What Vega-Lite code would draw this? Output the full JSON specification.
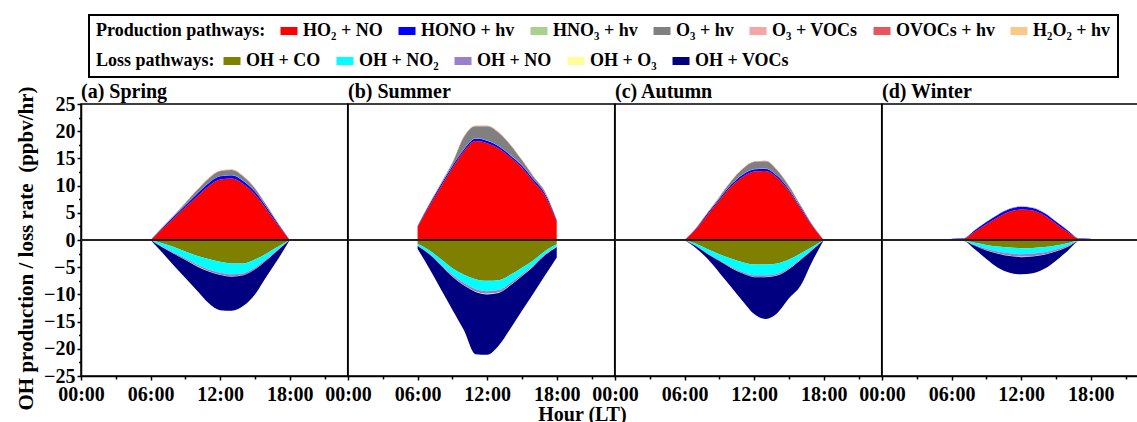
{
  "$schema": "https://vega.github.io/schema/vega-lite/v6.json",
  "padding": {"left": 14, "top": 14, "right": 0, "bottom": 0},
  "background": "white",
  "spacing": 0,
  "bounds": "flush",
  "config": {
    "font": "Liberation Serif",
    "view": {"stroke": "black", "strokeWidth": 1.5},
    "axis": {"labelFont": "Liberation Serif", "labelFontSize": 20, "labelFontWeight": "bold", "labelColor": "black", "titleFont": "Liberation Serif", "titleFontSize": 20, "titleFontWeight": "bold", "titleColor": "black", "domainColor": "black", "domainWidth": 1.5, "tickColor": "black", "tickWidth": 1.5, "tickSize": 4, "labelPadding": 2, "grid": false, "labelFlush": false, "labelOverlap": false, "labelBound": false},
    "axisX": {"labelPadding": 4},
    "title": {"font": "Liberation Serif", "fontSize": 20, "fontWeight": "bold", "color": "black", "anchor": "start", "frame": "group", "offset": 2},
    "legend": {"labelFont": "Liberation Serif", "labelFontSize": 18, "labelFontWeight": "bold", "labelColor": "black", "titleFont": "Liberation Serif", "titleFontSize": 18, "titleFontWeight": "bold", "titleColor": "black", "symbolType": "M-1,-0.47H1V0.47H-1Z", "symbolSize": 289, "symbolStrokeWidth": 0, "symbolOpacity": 1, "labelOffset": 5, "columnPadding": 15, "labelLimit": 300, "titleLimit": 400, "strokeWidth": 2}
  },
  "title": {"text": "Hour (LT)", "orient": "bottom", "anchor": "middle", "frame": "bounds", "offset": -6, "fontSize": 20},
  "datasets": {
    "prodrank": [
      {"production": "HO2_NO", "rank": 1}, {"production": "HONO_hv", "rank": 2}, {"production": "HNO3_hv", "rank": 3}, {"production": "O3_hv", "rank": 4},
      {"production": "O3_VOCs", "rank": 5}, {"production": "OVOCs_hv", "rank": 6}, {"production": "H2O2_hv", "rank": 7}
    ],
    "lossrank": [
      {"loss": "OH_CO", "rank": 1}, {"loss": "OH_NO2", "rank": 2}, {"loss": "OH_NO", "rank": 3}, {"loss": "OH_O3", "rank": 4}, {"loss": "OH_VOCs", "rank": 5}
    ],
    "oh": [
      {"season": "Spring", "hour": 6, "HO2_NO": 0, "HONO_hv": 0, "HNO3_hv": 0, "O3_hv": 0, "O3_VOCs": 0, "OVOCs_hv": 0, "H2O2_hv": 0, "OH_CO": 0, "OH_NO2": 0, "OH_NO": 0, "OH_O3": 0, "OH_VOCs": 0},
      {"season": "Spring", "hour": 7, "HO2_NO": 2.0, "HONO_hv": 0.2, "HNO3_hv": 0.01, "O3_hv": 0.1, "O3_VOCs": 0.01, "OVOCs_hv": 0.01, "H2O2_hv": 0.01, "OH_CO": -0.6, "OH_NO2": -0.6, "OH_NO": -0.1, "OH_O3": -0.02, "OH_VOCs": -0.98},
      {"season": "Spring", "hour": 8, "HO2_NO": 4.0, "HONO_hv": 0.3, "HNO3_hv": 0.02, "O3_hv": 0.2, "O3_VOCs": 0.02, "OVOCs_hv": 0.02, "H2O2_hv": 0.02, "OH_CO": -1.3, "OH_NO2": -1.0, "OH_NO": -0.2, "OH_O3": -0.03, "OH_VOCs": -2.17},
      {"season": "Spring", "hour": 9, "HO2_NO": 6.0, "HONO_hv": 0.4, "HNO3_hv": 0.02, "O3_hv": 0.4, "O3_VOCs": 0.02, "OVOCs_hv": 0.03, "H2O2_hv": 0.02, "OH_CO": -2.1, "OH_NO2": -1.3, "OH_NO": -0.25, "OH_O3": -0.04, "OH_VOCs": -3.31},
      {"season": "Spring", "hour": 10, "HO2_NO": 8.0, "HONO_hv": 0.5, "HNO3_hv": 0.03, "O3_hv": 0.6, "O3_VOCs": 0.03, "OVOCs_hv": 0.04, "H2O2_hv": 0.03, "OH_CO": -2.9, "OH_NO2": -1.6, "OH_NO": -0.3, "OH_O3": -0.05, "OH_VOCs": -4.45},
      {"season": "Spring", "hour": 11, "HO2_NO": 9.9, "HONO_hv": 0.55, "HNO3_hv": 0.03, "O3_hv": 0.8, "O3_VOCs": 0.03, "OVOCs_hv": 0.05, "H2O2_hv": 0.03, "OH_CO": -3.5, "OH_NO2": -1.9, "OH_NO": -0.35, "OH_O3": -0.05, "OH_VOCs": -5.8},
      {"season": "Spring", "hour": 12, "HO2_NO": 11.1, "HONO_hv": 0.6, "HNO3_hv": 0.03, "O3_hv": 0.9, "O3_VOCs": 0.03, "OVOCs_hv": 0.05, "H2O2_hv": 0.03, "OH_CO": -4.0, "OH_NO2": -2.0, "OH_NO": -0.4, "OH_O3": -0.05, "OH_VOCs": -6.45},
      {"season": "Spring", "hour": 13, "HO2_NO": 11.3, "HONO_hv": 0.6, "HNO3_hv": 0.03, "O3_hv": 0.95, "O3_VOCs": 0.03, "OVOCs_hv": 0.05, "H2O2_hv": 0.03, "OH_CO": -4.3, "OH_NO2": -2.0, "OH_NO": -0.4, "OH_O3": -0.05, "OH_VOCs": -6.25},
      {"season": "Spring", "hour": 14, "HO2_NO": 10.3, "HONO_hv": 0.55, "HNO3_hv": 0.03, "O3_hv": 0.8, "O3_VOCs": 0.03, "OVOCs_hv": 0.05, "H2O2_hv": 0.03, "OH_CO": -4.3, "OH_NO2": -1.8, "OH_NO": -0.35, "OH_O3": -0.05, "OH_VOCs": -5.6},
      {"season": "Spring", "hour": 15, "HO2_NO": 8.4, "HONO_hv": 0.5, "HNO3_hv": 0.02, "O3_hv": 0.6, "O3_VOCs": 0.02, "OVOCs_hv": 0.04, "H2O2_hv": 0.02, "OH_CO": -3.6, "OH_NO2": -1.5, "OH_NO": -0.3, "OH_O3": -0.04, "OH_VOCs": -4.56},
      {"season": "Spring", "hour": 16, "HO2_NO": 5.6, "HONO_hv": 0.4, "HNO3_hv": 0.02, "O3_hv": 0.35, "O3_VOCs": 0.02, "OVOCs_hv": 0.03, "H2O2_hv": 0.02, "OH_CO": -2.5, "OH_NO2": -1.0, "OH_NO": -0.2, "OH_O3": -0.03, "OH_VOCs": -2.97},
      {"season": "Spring", "hour": 17, "HO2_NO": 2.7, "HONO_hv": 0.25, "HNO3_hv": 0.01, "O3_hv": 0.15, "O3_VOCs": 0.01, "OVOCs_hv": 0.02, "H2O2_hv": 0.01, "OH_CO": -1.2, "OH_NO2": -0.5, "OH_NO": -0.1, "OH_O3": -0.02, "OH_VOCs": -1.68},
      {"season": "Spring", "hour": 18, "HO2_NO": 0, "HONO_hv": 0, "HNO3_hv": 0, "O3_hv": 0, "O3_VOCs": 0, "OVOCs_hv": 0, "H2O2_hv": 0, "OH_CO": 0, "OH_NO2": 0, "OH_NO": 0, "OH_O3": 0, "OH_VOCs": 0},

      {"season": "Summer", "hour": 6, "HO2_NO": 2.4, "HONO_hv": 0.15, "HNO3_hv": 0.01, "O3_hv": 0.05, "O3_VOCs": 0.01, "OVOCs_hv": 0.01, "H2O2_hv": 0.01, "OH_CO": -0.7, "OH_NO2": -0.35, "OH_NO": -0.05, "OH_O3": -0.02, "OH_VOCs": -0.48},
      {"season": "Summer", "hour": 7, "HO2_NO": 6.2, "HONO_hv": 0.3, "HNO3_hv": 0.02, "O3_hv": 0.1, "O3_VOCs": 0.02, "OVOCs_hv": 0.02, "H2O2_hv": 0.02, "OH_CO": -1.9, "OH_NO2": -0.6, "OH_NO": -0.1, "OH_O3": -0.03, "OH_VOCs": -2.57},
      {"season": "Summer", "hour": 8, "HO2_NO": 9.8, "HONO_hv": 0.35, "HNO3_hv": 0.03, "O3_hv": 0.2, "O3_VOCs": 0.03, "OVOCs_hv": 0.03, "H2O2_hv": 0.03, "OH_CO": -3.5, "OH_NO2": -0.9, "OH_NO": -0.2, "OH_O3": -0.05, "OH_VOCs": -4.35},
      {"season": "Summer", "hour": 9, "HO2_NO": 13.2, "HONO_hv": 0.4, "HNO3_hv": 0.04, "O3_hv": 0.5, "O3_VOCs": 0.04, "OVOCs_hv": 0.05, "H2O2_hv": 0.04, "OH_CO": -5.2, "OH_NO2": -1.2, "OH_NO": -0.3, "OH_O3": -0.07, "OH_VOCs": -6.03},
      {"season": "Summer", "hour": 10, "HO2_NO": 16.3, "HONO_hv": 0.4, "HNO3_hv": 0.05, "O3_hv": 2.2, "O3_VOCs": 0.05, "OVOCs_hv": 0.06, "H2O2_hv": 0.05, "OH_CO": -6.4, "OH_NO2": -1.5, "OH_NO": -0.4, "OH_O3": -0.08, "OH_VOCs": -8.22},
      {"season": "Summer", "hour": 11, "HO2_NO": 18.2, "HONO_hv": 0.45, "HNO3_hv": 0.05, "O3_hv": 2.2, "O3_VOCs": 0.05, "OVOCs_hv": 0.07, "H2O2_hv": 0.05, "OH_CO": -7.2, "OH_NO2": -1.8, "OH_NO": -0.45, "OH_O3": -0.1, "OH_VOCs": -11.45},
      {"season": "Summer", "hour": 12, "HO2_NO": 17.8, "HONO_hv": 0.45, "HNO3_hv": 0.05, "O3_hv": 2.6, "O3_VOCs": 0.05, "OVOCs_hv": 0.07, "H2O2_hv": 0.05, "OH_CO": -7.5, "OH_NO2": -1.9, "OH_NO": -0.5, "OH_O3": -0.1, "OH_VOCs": -11.1},
      {"season": "Summer", "hour": 13, "HO2_NO": 16.8, "HONO_hv": 0.45, "HNO3_hv": 0.05, "O3_hv": 2.4, "O3_VOCs": 0.05, "OVOCs_hv": 0.07, "H2O2_hv": 0.05, "OH_CO": -7.4, "OH_NO2": -1.8, "OH_NO": -0.45, "OH_O3": -0.1, "OH_VOCs": -9.65},
      {"season": "Summer", "hour": 14, "HO2_NO": 15.2, "HONO_hv": 0.4, "HNO3_hv": 0.05, "O3_hv": 1.8, "O3_VOCs": 0.05, "OVOCs_hv": 0.06, "H2O2_hv": 0.05, "OH_CO": -6.4, "OH_NO2": -1.5, "OH_NO": -0.4, "OH_O3": -0.08, "OH_VOCs": -7.92},
      {"season": "Summer", "hour": 15, "HO2_NO": 13.3, "HONO_hv": 0.4, "HNO3_hv": 0.04, "O3_hv": 0.9, "O3_VOCs": 0.04, "OVOCs_hv": 0.05, "H2O2_hv": 0.04, "OH_CO": -5.1, "OH_NO2": -1.2, "OH_NO": -0.3, "OH_O3": -0.07, "OH_VOCs": -6.33},
      {"season": "Summer", "hour": 16, "HO2_NO": 10.7, "HONO_hv": 0.4, "HNO3_hv": 0.03, "O3_hv": 0.5, "O3_VOCs": 0.03, "OVOCs_hv": 0.04, "H2O2_hv": 0.03, "OH_CO": -3.7, "OH_NO2": -0.9, "OH_NO": -0.2, "OH_O3": -0.05, "OH_VOCs": -4.95},
      {"season": "Summer", "hour": 17, "HO2_NO": 8.1, "HONO_hv": 0.35, "HNO3_hv": 0.03, "O3_hv": 0.35, "O3_VOCs": 0.03, "OVOCs_hv": 0.03, "H2O2_hv": 0.03, "OH_CO": -2.0, "OH_NO2": -0.6, "OH_NO": -0.15, "OH_O3": -0.03, "OH_VOCs": -3.72},
      {"season": "Summer", "hour": 18, "HO2_NO": 3.4, "HONO_hv": 0.2, "HNO3_hv": 0.01, "O3_hv": 0.15, "O3_VOCs": 0.01, "OVOCs_hv": 0.01, "H2O2_hv": 0.01, "OH_CO": -0.8, "OH_NO2": -0.4, "OH_NO": -0.05, "OH_O3": -0.02, "OH_VOCs": -1.93},

      {"season": "Autumn", "hour": 6, "HO2_NO": 0, "HONO_hv": 0, "HNO3_hv": 0, "O3_hv": 0, "O3_VOCs": 0, "OVOCs_hv": 0, "H2O2_hv": 0, "OH_CO": 0, "OH_NO2": 0, "OH_NO": 0, "OH_O3": 0, "OH_VOCs": 0},
      {"season": "Autumn", "hour": 7, "HO2_NO": 2.0, "HONO_hv": 0.15, "HNO3_hv": 0.01, "O3_hv": 0.05, "O3_VOCs": 0.01, "OVOCs_hv": 0.01, "H2O2_hv": 0.01, "OH_CO": -0.7, "OH_NO2": -0.4, "OH_NO": -0.05, "OH_O3": -0.01, "OH_VOCs": -0.34},
      {"season": "Autumn", "hour": 8, "HO2_NO": 4.7, "HONO_hv": 0.25, "HNO3_hv": 0.01, "O3_hv": 0.15, "O3_VOCs": 0.01, "OVOCs_hv": 0.02, "H2O2_hv": 0.01, "OH_CO": -1.7, "OH_NO2": -0.8, "OH_NO": -0.1, "OH_O3": -0.02, "OH_VOCs": -0.88},
      {"season": "Autumn", "hour": 9, "HO2_NO": 7.3, "HONO_hv": 0.3, "HNO3_hv": 0.02, "O3_hv": 0.3, "O3_VOCs": 0.02, "OVOCs_hv": 0.03, "H2O2_hv": 0.02, "OH_CO": -2.6, "OH_NO2": -1.1, "OH_NO": -0.15, "OH_O3": -0.02, "OH_VOCs": -2.13},
      {"season": "Autumn", "hour": 10, "HO2_NO": 9.8, "HONO_hv": 0.35, "HNO3_hv": 0.02, "O3_hv": 0.6, "O3_VOCs": 0.02, "OVOCs_hv": 0.04, "H2O2_hv": 0.02, "OH_CO": -3.4, "OH_NO2": -1.5, "OH_NO": -0.2, "OH_O3": -0.03, "OH_VOCs": -3.47},
      {"season": "Autumn", "hour": 11, "HO2_NO": 11.6, "HONO_hv": 0.4, "HNO3_hv": 0.03, "O3_hv": 1.0, "O3_VOCs": 0.03, "OVOCs_hv": 0.05, "H2O2_hv": 0.03, "OH_CO": -4.1, "OH_NO2": -1.8, "OH_NO": -0.25, "OH_O3": -0.03, "OH_VOCs": -5.02},
      {"season": "Autumn", "hour": 12, "HO2_NO": 12.6, "HONO_hv": 0.4, "HNO3_hv": 0.03, "O3_hv": 1.3, "O3_VOCs": 0.03, "OVOCs_hv": 0.05, "H2O2_hv": 0.03, "OH_CO": -4.5, "OH_NO2": -2.0, "OH_NO": -0.3, "OH_O3": -0.03, "OH_VOCs": -6.77},
      {"season": "Autumn", "hour": 13, "HO2_NO": 12.7, "HONO_hv": 0.4, "HNO3_hv": 0.03, "O3_hv": 1.35, "O3_VOCs": 0.03, "OVOCs_hv": 0.05, "H2O2_hv": 0.03, "OH_CO": -4.5, "OH_NO2": -2.0, "OH_NO": -0.3, "OH_O3": -0.03, "OH_VOCs": -7.67},
      {"season": "Autumn", "hour": 14, "HO2_NO": 11.4, "HONO_hv": 0.35, "HNO3_hv": 0.03, "O3_hv": 1.0, "O3_VOCs": 0.03, "OVOCs_hv": 0.05, "H2O2_hv": 0.03, "OH_CO": -4.3, "OH_NO2": -1.9, "OH_NO": -0.3, "OH_O3": -0.03, "OH_VOCs": -6.87},
      {"season": "Autumn", "hour": 15, "HO2_NO": 9.0, "HONO_hv": 0.3, "HNO3_hv": 0.02, "O3_hv": 0.6, "O3_VOCs": 0.02, "OVOCs_hv": 0.04, "H2O2_hv": 0.02, "OH_CO": -3.6, "OH_NO2": -1.5, "OH_NO": -0.25, "OH_O3": -0.03, "OH_VOCs": -5.32},
      {"season": "Autumn", "hour": 16, "HO2_NO": 5.8, "HONO_hv": 0.25, "HNO3_hv": 0.02, "O3_hv": 0.3, "O3_VOCs": 0.02, "OVOCs_hv": 0.03, "H2O2_hv": 0.02, "OH_CO": -2.5, "OH_NO2": -1.0, "OH_NO": -0.15, "OH_O3": -0.02, "OH_VOCs": -4.73},
      {"season": "Autumn", "hour": 17, "HO2_NO": 2.6, "HONO_hv": 0.15, "HNO3_hv": 0.01, "O3_hv": 0.1, "O3_VOCs": 0.01, "OVOCs_hv": 0.01, "H2O2_hv": 0.01, "OH_CO": -1.3, "OH_NO2": -0.5, "OH_NO": -0.08, "OH_O3": -0.01, "OH_VOCs": -2.11},
      {"season": "Autumn", "hour": 18, "HO2_NO": 0, "HONO_hv": 0, "HNO3_hv": 0, "O3_hv": 0, "O3_VOCs": 0, "OVOCs_hv": 0, "H2O2_hv": 0, "OH_CO": 0, "OH_NO2": 0, "OH_NO": 0, "OH_O3": 0, "OH_VOCs": 0},

      {"season": "Winter", "hour": 6, "HO2_NO": 0.2, "HONO_hv": 0.02, "HNO3_hv": 0, "O3_hv": 0, "O3_VOCs": 0, "OVOCs_hv": 0, "H2O2_hv": 0, "OH_CO": -0.05, "OH_NO2": 0, "OH_NO": 0, "OH_O3": 0, "OH_VOCs": 0},
      {"season": "Winter", "hour": 7, "HO2_NO": 0.25, "HONO_hv": 0.05, "HNO3_hv": 0, "O3_hv": 0.01, "O3_VOCs": 0, "OVOCs_hv": 0, "H2O2_hv": 0, "OH_CO": -0.1, "OH_NO2": -0.02, "OH_NO": -0.01, "OH_O3": 0, "OH_VOCs": -0.02},
      {"season": "Winter", "hour": 8, "HO2_NO": 1.5, "HONO_hv": 0.3, "HNO3_hv": 0.01, "O3_hv": 0.02, "O3_VOCs": 0.01, "OVOCs_hv": 0.01, "H2O2_hv": 0.01, "OH_CO": -0.5, "OH_NO2": -0.4, "OH_NO": -0.15, "OH_O3": -0.02, "OH_VOCs": -0.63},
      {"season": "Winter", "hour": 9, "HO2_NO": 2.9, "HONO_hv": 0.4, "HNO3_hv": 0.01, "O3_hv": 0.03, "O3_VOCs": 0.01, "OVOCs_hv": 0.01, "H2O2_hv": 0.01, "OH_CO": -0.9, "OH_NO2": -0.7, "OH_NO": -0.3, "OH_O3": -0.03, "OH_VOCs": -1.57},
      {"season": "Winter", "hour": 10, "HO2_NO": 4.2, "HONO_hv": 0.45, "HNO3_hv": 0.01, "O3_hv": 0.05, "O3_VOCs": 0.01, "OVOCs_hv": 0.01, "H2O2_hv": 0.01, "OH_CO": -1.2, "OH_NO2": -0.9, "OH_NO": -0.4, "OH_O3": -0.04, "OH_VOCs": -2.56},
      {"season": "Winter", "hour": 11, "HO2_NO": 5.2, "HONO_hv": 0.5, "HNO3_hv": 0.01, "O3_hv": 0.06, "O3_VOCs": 0.01, "OVOCs_hv": 0.01, "H2O2_hv": 0.01, "OH_CO": -1.4, "OH_NO2": -1.05, "OH_NO": -0.45, "OH_O3": -0.05, "OH_VOCs": -3.05},
      {"season": "Winter", "hour": 12, "HO2_NO": 5.6, "HONO_hv": 0.5, "HNO3_hv": 0.01, "O3_hv": 0.07, "O3_VOCs": 0.01, "OVOCs_hv": 0.01, "H2O2_hv": 0.01, "OH_CO": -1.5, "OH_NO2": -1.1, "OH_NO": -0.5, "OH_O3": -0.05, "OH_VOCs": -3.15},
      {"season": "Winter", "hour": 13, "HO2_NO": 5.4, "HONO_hv": 0.5, "HNO3_hv": 0.01, "O3_hv": 0.06, "O3_VOCs": 0.01, "OVOCs_hv": 0.01, "H2O2_hv": 0.01, "OH_CO": -1.45, "OH_NO2": -1.05, "OH_NO": -0.48, "OH_O3": -0.05, "OH_VOCs": -3.07},
      {"season": "Winter", "hour": 14, "HO2_NO": 4.5, "HONO_hv": 0.45, "HNO3_hv": 0.01, "O3_hv": 0.05, "O3_VOCs": 0.01, "OVOCs_hv": 0.01, "H2O2_hv": 0.01, "OH_CO": -1.3, "OH_NO2": -0.95, "OH_NO": -0.42, "OH_O3": -0.04, "OH_VOCs": -2.59},
      {"season": "Winter", "hour": 15, "HO2_NO": 3.0, "HONO_hv": 0.4, "HNO3_hv": 0.01, "O3_hv": 0.03, "O3_VOCs": 0.01, "OVOCs_hv": 0.01, "H2O2_hv": 0.01, "OH_CO": -1.0, "OH_NO2": -0.75, "OH_NO": -0.33, "OH_O3": -0.03, "OH_VOCs": -1.69},
      {"season": "Winter", "hour": 16, "HO2_NO": 1.5, "HONO_hv": 0.3, "HNO3_hv": 0.01, "O3_hv": 0.02, "O3_VOCs": 0.01, "OVOCs_hv": 0.01, "H2O2_hv": 0.01, "OH_CO": -0.6, "OH_NO2": -0.45, "OH_NO": -0.2, "OH_O3": -0.02, "OH_VOCs": -0.73},
      {"season": "Winter", "hour": 17, "HO2_NO": 0.25, "HONO_hv": 0.05, "HNO3_hv": 0, "O3_hv": 0.01, "O3_VOCs": 0, "OVOCs_hv": 0, "H2O2_hv": 0, "OH_CO": -0.1, "OH_NO2": -0.05, "OH_NO": -0.02, "OH_O3": 0, "OH_VOCs": -0.03},
      {"season": "Winter", "hour": 18, "HO2_NO": 0.2, "HONO_hv": 0.02, "HNO3_hv": 0, "O3_hv": 0, "O3_VOCs": 0, "OVOCs_hv": 0, "H2O2_hv": 0, "OH_CO": -0.05, "OH_NO2": 0, "OH_NO": 0, "OH_O3": 0, "OH_VOCs": 0}
    ]
  },
  "hconcat": [
    {
      "width": 266.7, "height": 272,
      "title": {"text": "(a) Spring", "offset": -16},
      "data": {"name": "oh"},
      "transform": [{"filter": "datum.season == 'Spring'"}],
      "resolve": {"axis": {"x": "independent", "y": "independent"}},
      "layer": [
        {
          "transform": [{"fold": ["HO2_NO", "HONO_hv", "HNO3_hv", "O3_hv", "O3_VOCs", "OVOCs_hv", "H2O2_hv"], "as": ["production", "rate"]}, {"lookup": "production", "from": {"data": {"name": "prodrank"}, "key": "production", "fields": ["rank"]}}],
          "mark": {"type": "area", "interpolate": "monotone"},
          "encoding": {
            "x": {"field": "hour", "type": "quantitative", "scale": {"domain": [0, 23], "nice": false, "zero": false}, "axis": {"title": null, "orient": "bottom", "values": [0, 6, 12, 18], "labelExpr": "(datum.value < 10 ? '0' : '') + datum.value + ':00'"}},
            "y": {"field": "rate", "type": "quantitative", "stack": "zero", "scale": {"domain": [-25, 25], "nice": false}, "axis": {"title": "OH production / loss rate\u00a0 (ppbv/hr)", "orient": "left", "values": [-25, -20, -15, -10, -5, 0, 5, 10, 15, 20, 25], "labelOverlap": false, "titlePadding": 7, "titleFontSize": 21, "titleY": 144}},
            "order": {"field": "rank", "type": "quantitative"},
            "color": {"field": "production", "type": "nominal",
              "scale": {"domain": ["HO2_NO", "HONO_hv", "HNO3_hv", "O3_hv", "O3_VOCs", "OVOCs_hv", "H2O2_hv"], "range": ["#FF0000", "#0000FF", "#A9D18E", "#808080", "#F4A6A6", "#E8555F", "#F9C98A"]},
              "legend": {"title": ["Production pathways:", ""], "orient": "none", "legendX": 8, "legendY": -89, "direction": "horizontal", "titleOrient": "left", "titleAnchor": "start", "titleLineHeight": 30, "titlePadding": 14, "strokeColor": "black", "padding": 7,
                "labelExpr": "datum.label == 'HO2_NO' ? 'HO₂ + NO' : datum.label == 'HONO_hv' ? 'HONO + hv' : datum.label == 'HNO3_hv' ? 'HNO₃ + hv' : datum.label == 'O3_hv' ? 'O₃ + hv' : datum.label == 'O3_VOCs' ? 'O₃ + VOCs' : datum.label == 'OVOCs_hv' ? 'OVOCs + hv' : 'H₂O₂ + hv'"}}
          }
        },
        {
          "transform": [{"fold": ["OH_CO", "OH_NO2", "OH_NO", "OH_O3", "OH_VOCs"], "as": ["loss", "rate"]}, {"lookup": "loss", "from": {"data": {"name": "lossrank"}, "key": "loss", "fields": ["rank"]}}],
          "mark": {"type": "area", "interpolate": "monotone"},
          "encoding": {
            "x": {"field": "hour", "type": "quantitative", "axis": {"title": null, "orient": "bottom", "values": [3, 9, 15, 21], "labels": false, "domain": false, "tickSize": 3}},
            "y": {"field": "rate", "type": "quantitative", "stack": "zero", "axis": {"title": null, "orient": "left", "values": [-22.5, -17.5, -12.5, -7.5, -2.5, 2.5, 7.5, 12.5, 17.5, 22.5], "labels": false, "domain": false, "tickSize": 2.5}},
            "order": {"field": "rank", "type": "quantitative"},
            "fill": {"field": "loss", "type": "nominal",
              "scale": {"domain": ["OH_CO", "OH_NO2", "OH_NO", "OH_O3", "OH_VOCs"], "range": ["#808000", "#00FFFF", "#9B7FCF", "#FFFF99", "#000080"]},
              "legend": {"title": "Loss pathways:", "orient": "none", "legendX": 8, "legendY": -59, "direction": "horizontal", "titleOrient": "left", "titleAnchor": "start", "titlePadding": 8, "padding": 7, "strokeColor": null,
                "labelExpr": "datum.label == 'OH_CO' ? 'OH + CO' : datum.label == 'OH_NO2' ? 'OH + NO₂' : datum.label == 'OH_NO' ? 'OH + NO' : datum.label == 'OH_O3' ? 'OH + O₃' : 'OH + VOCs'"}}
          }
        },
        {"mark": {"type": "rule", "color": "#222222", "strokeWidth": 1}, "encoding": {"y": {"datum": 0, "axis": null}}}
      ]
    },
    {
      "width": 266.7, "height": 272,
      "title": {"text": "(b) Summer"},
      "data": {"name": "oh"},
      "transform": [{"filter": "datum.season == 'Summer'"}],
      "resolve": {"axis": {"x": "independent"}},
      "layer": [
        {
          "transform": [{"fold": ["HO2_NO", "HONO_hv", "HNO3_hv", "O3_hv", "O3_VOCs", "OVOCs_hv", "H2O2_hv"], "as": ["production", "rate"]}, {"lookup": "production", "from": {"data": {"name": "prodrank"}, "key": "production", "fields": ["rank"]}}],
          "mark": {"type": "area", "interpolate": "monotone"},
          "encoding": {
            "x": {"field": "hour", "type": "quantitative", "scale": {"domain": [0, 23], "nice": false, "zero": false}, "axis": {"title": null, "orient": "bottom", "values": [0, 6, 12, 18], "labelExpr": "(datum.value < 10 ? '0' : '') + datum.value + ':00'"}},
            "y": {"field": "rate", "type": "quantitative", "stack": "zero", "scale": {"domain": [-25, 25], "nice": false}, "axis": null},
            "order": {"field": "rank", "type": "quantitative"},
            "color": {"field": "production", "type": "nominal", "scale": {"domain": ["HO2_NO", "HONO_hv", "HNO3_hv", "O3_hv", "O3_VOCs", "OVOCs_hv", "H2O2_hv"]}}
          }
        },
        {
          "transform": [{"fold": ["OH_CO", "OH_NO2", "OH_NO", "OH_O3", "OH_VOCs"], "as": ["loss", "rate"]}, {"lookup": "loss", "from": {"data": {"name": "lossrank"}, "key": "loss", "fields": ["rank"]}}],
          "mark": {"type": "area", "interpolate": "monotone"},
          "encoding": {
            "x": {"field": "hour", "type": "quantitative", "axis": {"title": null, "orient": "bottom", "values": [3, 9, 15, 21], "labels": false, "domain": false, "tickSize": 3}},
            "y": {"field": "rate", "type": "quantitative", "stack": "zero", "axis": null},
            "order": {"field": "rank", "type": "quantitative"},
            "fill": {"field": "loss", "type": "nominal", "scale": {"domain": ["OH_CO", "OH_NO2", "OH_NO", "OH_O3", "OH_VOCs"]}}
          }
        },
        {"mark": {"type": "rule", "color": "#222222", "strokeWidth": 1}, "encoding": {"y": {"datum": 0, "axis": null}}}
      ]
    },
    {
      "width": 266.7, "height": 272,
      "title": {"text": "(c) Autumn"},
      "data": {"name": "oh"},
      "transform": [{"filter": "datum.season == 'Autumn'"}],
      "resolve": {"axis": {"x": "independent"}},
      "layer": [
        {
          "transform": [{"fold": ["HO2_NO", "HONO_hv", "HNO3_hv", "O3_hv", "O3_VOCs", "OVOCs_hv", "H2O2_hv"], "as": ["production", "rate"]}, {"lookup": "production", "from": {"data": {"name": "prodrank"}, "key": "production", "fields": ["rank"]}}],
          "mark": {"type": "area", "interpolate": "monotone"},
          "encoding": {
            "x": {"field": "hour", "type": "quantitative", "scale": {"domain": [0, 23], "nice": false, "zero": false}, "axis": {"title": null, "orient": "bottom", "values": [0, 6, 12, 18], "labelExpr": "(datum.value < 10 ? '0' : '') + datum.value + ':00'"}},
            "y": {"field": "rate", "type": "quantitative", "stack": "zero", "scale": {"domain": [-25, 25], "nice": false}, "axis": null},
            "order": {"field": "rank", "type": "quantitative"},
            "color": {"field": "production", "type": "nominal", "scale": {"domain": ["HO2_NO", "HONO_hv", "HNO3_hv", "O3_hv", "O3_VOCs", "OVOCs_hv", "H2O2_hv"]}}
          }
        },
        {
          "transform": [{"fold": ["OH_CO", "OH_NO2", "OH_NO", "OH_O3", "OH_VOCs"], "as": ["loss", "rate"]}, {"lookup": "loss", "from": {"data": {"name": "lossrank"}, "key": "loss", "fields": ["rank"]}}],
          "mark": {"type": "area", "interpolate": "monotone"},
          "encoding": {
            "x": {"field": "hour", "type": "quantitative", "axis": {"title": null, "orient": "bottom", "values": [3, 9, 15, 21], "labels": false, "domain": false, "tickSize": 3}},
            "y": {"field": "rate", "type": "quantitative", "stack": "zero", "axis": null},
            "order": {"field": "rank", "type": "quantitative"},
            "fill": {"field": "loss", "type": "nominal", "scale": {"domain": ["OH_CO", "OH_NO2", "OH_NO", "OH_O3", "OH_VOCs"]}}
          }
        },
        {"mark": {"type": "rule", "color": "#222222", "strokeWidth": 1}, "encoding": {"y": {"datum": 0, "axis": null}}}
      ]
    },
    {
      "width": 266.7, "height": 272,
      "title": {"text": "(d) Winter"},
      "data": {"name": "oh"},
      "transform": [{"filter": "datum.season == 'Winter'"}],
      "resolve": {"axis": {"x": "independent"}},
      "layer": [
        {
          "transform": [{"fold": ["HO2_NO", "HONO_hv", "HNO3_hv", "O3_hv", "O3_VOCs", "OVOCs_hv", "H2O2_hv"], "as": ["production", "rate"]}, {"lookup": "production", "from": {"data": {"name": "prodrank"}, "key": "production", "fields": ["rank"]}}],
          "mark": {"type": "area", "interpolate": "monotone"},
          "encoding": {
            "x": {"field": "hour", "type": "quantitative", "scale": {"domain": [0, 23], "nice": false, "zero": false}, "axis": {"title": null, "orient": "bottom", "values": [0, 6, 12, 18], "labelExpr": "(datum.value < 10 ? '0' : '') + datum.value + ':00'"}},
            "y": {"field": "rate", "type": "quantitative", "stack": "zero", "scale": {"domain": [-25, 25], "nice": false}, "axis": null},
            "order": {"field": "rank", "type": "quantitative"},
            "color": {"field": "production", "type": "nominal", "scale": {"domain": ["HO2_NO", "HONO_hv", "HNO3_hv", "O3_hv", "O3_VOCs", "OVOCs_hv", "H2O2_hv"]}}
          }
        },
        {
          "transform": [{"fold": ["OH_CO", "OH_NO2", "OH_NO", "OH_O3", "OH_VOCs"], "as": ["loss", "rate"]}, {"lookup": "loss", "from": {"data": {"name": "lossrank"}, "key": "loss", "fields": ["rank"]}}],
          "mark": {"type": "area", "interpolate": "monotone"},
          "encoding": {
            "x": {"field": "hour", "type": "quantitative", "axis": {"title": null, "orient": "bottom", "values": [3, 9, 15, 21], "labels": false, "domain": false, "tickSize": 3}},
            "y": {"field": "rate", "type": "quantitative", "stack": "zero", "axis": null},
            "order": {"field": "rank", "type": "quantitative"},
            "fill": {"field": "loss", "type": "nominal", "scale": {"domain": ["OH_CO", "OH_NO2", "OH_NO", "OH_O3", "OH_VOCs"]}}
          }
        },
        {"mark": {"type": "rule", "color": "#222222", "strokeWidth": 1}, "encoding": {"y": {"datum": 0, "axis": null}}}
      ]
    }
  ]
}
